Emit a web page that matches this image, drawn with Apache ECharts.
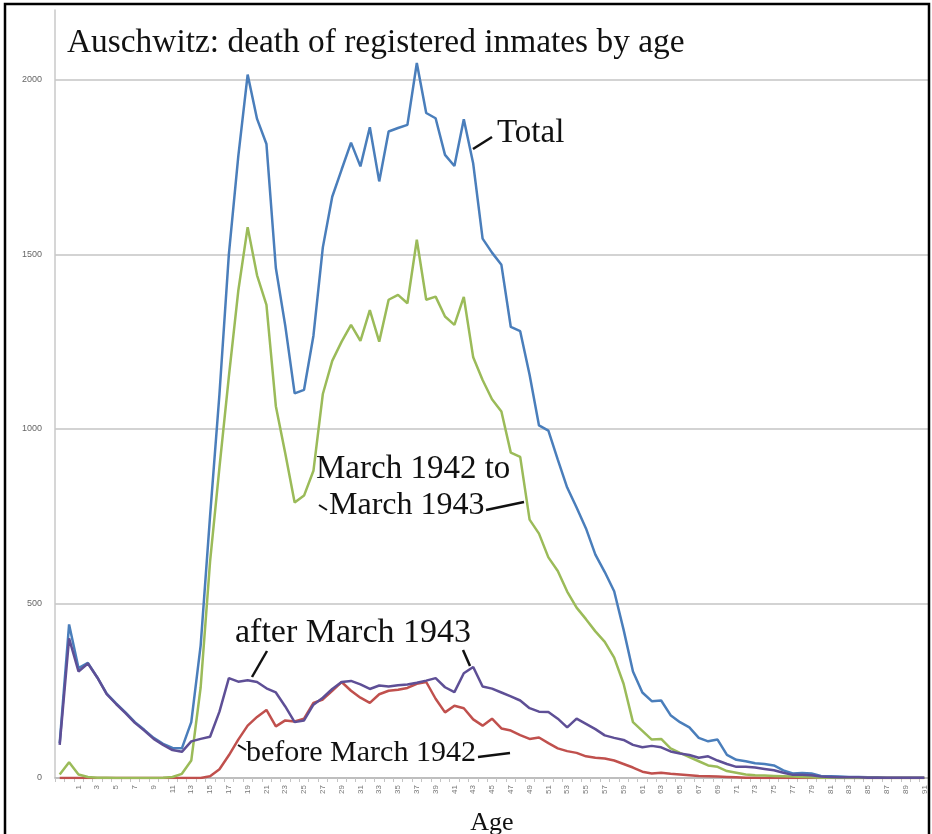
<!DOCTYPE html>
<html>
<head>
<meta charset="utf-8">
<title>Auschwitz: death of registered inmates by age</title>
<script src="https://cdn.jsdelivr.net/npm/echarts@6/dist/echarts.min.js"></script>
<style>
  html, body { margin: 0; padding: 0; background: #fff; }
  #chart { width: 932px; height: 834px; }
</style>
</head>
<body>
<div id="chart"></div>
<script>
// categories: first slot has no label, then ages 0..91
var ages = [''];
for (var a = 0; a <= 91; a++) ages.push(String(a));

var total = [100, 440, 315, 330, 288, 242, 214, 188, 160, 138, 115, 98, 86, 85, 160, 380, 750, 1100, 1500, 1780,
  2015, 1888, 1816, 1461, 1296, 1102, 1112, 1267, 1520, 1665, 1743, 1820, 1752, 1864, 1709, 1852, 1862, 1871, 2048, 1905,
  1890, 1785, 1753, 1887, 1760, 1545, 1505, 1470, 1292, 1280, 1155, 1010, 995, 912, 832, 775, 715, 640, 590, 535,
  425, 305, 245, 220, 222, 180, 160, 145, 115, 105, 110, 66, 52, 48, 42, 40, 36, 22, 13, 14,
  13, 6, 5, 4, 3, 3, 2, 2, 1, 1, 1, 1, 1];

var before1942 = [0, 0, 0, 0, 0, 0, 0, 0, 0, 0, 0, 0, 0, 0, 0, 0, 5, 25, 65, 110,
  150, 175, 195, 148, 165, 162, 170, 215, 225, 250, 275, 250, 230, 215, 240, 250, 253, 258, 270, 275,
  227, 188, 207, 200, 168, 150, 170, 142, 136, 123, 112, 116, 100, 85, 77, 72, 62, 58, 56, 50,
  40, 30, 18, 13, 15, 12, 10, 8, 6, 5, 4, 3, 2, 1, 1, 0, 0, 0, 0, 0,
  0, 0, 0, 0, 0, 0, 0, 0, 0, 0, 0, 0, 0];

var mid1942_1943 = [10, 45, 10, 3, 1, 1, 0, 0, 0, 0, 0, 1, 3, 12, 50, 260, 620, 890, 1150, 1395,
  1578, 1440, 1355, 1065, 930, 789, 809, 880, 1100, 1195, 1250, 1298, 1252, 1340, 1250, 1370, 1384, 1360, 1542, 1370,
  1379, 1322, 1298, 1378, 1205, 1140, 1085, 1050, 932, 920, 740, 700, 632, 593, 534, 488, 455, 420, 390, 345,
  270, 160, 135, 110, 112, 85, 72, 60, 48, 36, 32, 20, 15, 10, 8, 7, 6, 5, 4, 3,
  2, 1, 1, 0, 0, 0, 0, 0, 0, 0, 0, 0, 0];

var after1943 = [95, 400, 305, 328, 288, 240, 212, 186, 158, 136, 112, 95, 80, 75, 105, 112, 118, 190, 286, 276,
  280, 275, 257, 245, 205, 160, 165, 210, 230, 255, 275, 278, 268, 255, 265, 262, 266, 268, 273, 279,
  286, 260, 246, 300, 318, 262, 256, 245, 234, 222, 200, 190, 189, 170, 145, 170, 155, 140, 122, 115,
  109, 95, 88, 92, 88, 76, 70, 66, 58, 62, 50, 40, 32, 32, 30, 26, 22, 15, 9, 9,
  8, 4, 3, 2, 2, 2, 1, 1, 1, 1, 1, 1, 1];

var serif = '"Liberation Serif", "Times New Roman", serif';

var chart = echarts.init(document.getElementById('chart'));

function lineSeries(name, data, color) {
  return {
    name: name,
    type: 'line',
    data: data,
    showSymbol: false,
    smooth: false,
    lineStyle: { color: color, width: 2.5 },
    itemStyle: { color: color }
  };
}

function note(text, x, y, size) {
  return { type: 'text', z: 10, style: { text: text, x: x, y: y, font: size + 'px ' + serif,
    fill: '#111', textVerticalAlign: 'middle' } };
}

function stroke(x1, y1, x2, y2, w) {
  return { type: 'line', z: 10, shape: { x1: x1, y1: y1, x2: x2, y2: y2 },
    style: { stroke: '#111', lineWidth: w || 2.5 } };
}

var option = {
  animation: false,
  backgroundColor: '#fff',
  grid: { left: 55, right: 3, top: 10, bottom: 56, containLabel: false, outerBoundsMode: 'none' },
  xAxis: {
    type: 'category',
    data: ages,
    boundaryGap: true,
    axisLine: { show: true, lineStyle: { color: '#b8b8b8', width: 1.5 } },
    axisTick: { show: true, interval: 0, length: 4, lineStyle: { color: '#c4c4c4' } },
    axisLabel: {
      interval: 1,
      rotate: 90,
      fontSize: 8,
      color: '#777',
      margin: 7
    },
    name: 'Age',
    nameLocation: 'middle',
    nameGap: 32,
    nameTextStyle: { fontFamily: serif, fontSize: 26, color: '#111' }
  },
  yAxis: {
    type: 'value',
    min: 0,
    max: 2200,
    interval: 500,
    axisLine: { show: true, lineStyle: { color: '#c8c8c8', width: 1.5 } },
    axisTick: { show: false },
    axisLabel: {
      fontSize: 9, color: '#666', margin: 13, showMaxLabel: false,
      formatter: function (v) { return String(v); }
    },
    splitLine: {
      show: true,
      lineStyle: { color: ['#c4c4c4', '#c4c4c4', '#c4c4c4', '#c4c4c4', '#c4c4c4', 'rgba(0,0,0,0)'], width: 1.5 }
    }
  },
  series: [
    lineSeries('Total', total, '#4a7ebb'),
    lineSeries('before March 1942', before1942, '#c0504d'),
    lineSeries('March 1942 to March 1943', mid1942_1943, '#9bbb59'),
    lineSeries('after March 1943', after1943, '#5e4f96')
  ],
  graphic: [
    note('Auschwitz: death of registered inmates by age', 67, 43, 33.4),
    note('Total', 497, 133, 33),
    stroke(473, 149, 492, 137),
    note('March 1942 to', 316, 469, 33),
    note('March 1943', 329, 506, 32),
    stroke(319, 505, 327, 510, 2),
    stroke(486, 510, 524, 502),
    note('after March 1943', 235, 633, 34),
    stroke(252, 677, 267, 651),
    stroke(463, 650, 470, 666),
    note('before March 1942', 246, 753, 30),
    stroke(238, 745, 246, 750, 2),
    stroke(478, 757, 510, 753),
    { type: 'rect', z: 20, shape: { x: 5, y: 4, width: 924, height: 840 },
      style: { fill: 'none', stroke: '#000', lineWidth: 2.5 } }
  ]
};

chart.setOption(option);
</script>
</body>
</html>
